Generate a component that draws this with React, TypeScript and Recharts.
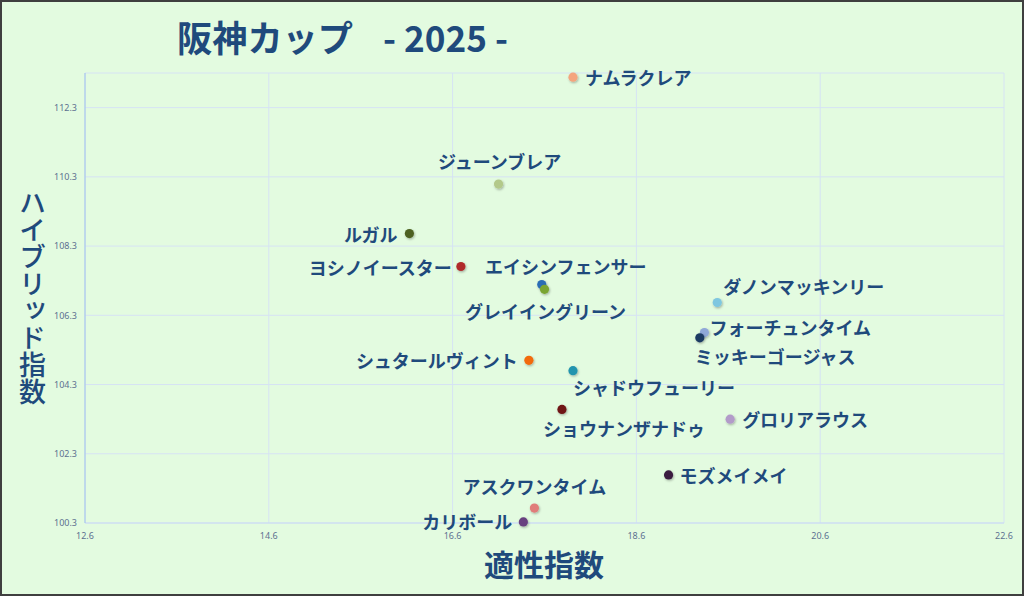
import React from "react";
import {
  ScatterChart,
  Scatter,
  XAxis,
  YAxis,
  CartesianGrid,
  Cell,
} from "recharts";

// horse names, 適性指数 (x), ハイブリッド指数 (y), dot colours
const horses = [
  "ナムラクレア",
  "ジューンブレア",
  "ルガル",
  "ヨシノイースター",
  "エイシンフェンサー",
  "グレイイングリーン",
  "ダノンマッキンリー",
  "フォーチュンタイム",
  "ミッキーゴージャス",
  "シュタールヴィント",
  "シャドウフューリー",
  "ショウナンザナドゥ",
  "グロリアラウス",
  "モズメイメイ",
  "アスクワンタイム",
  "カリボール",
];
const aptitude = [
  17.91, 17.1, 16.13, 16.69, 17.57, 17.6, 19.48, 19.34, 19.29, 17.43, 17.91,
  17.79, 19.62, 18.95, 17.49, 17.37,
];
const hybrid = [
  113.18, 110.09, 108.66, 107.71, 107.19, 107.05, 106.67, 105.8, 105.65, 105.0,
  104.7, 103.58, 103.3, 101.69, 100.73, 100.33,
];
const dotColors = [
  "#f4a57e",
  "#b3c98a",
  "#4e6121",
  "#b02a2a",
  "#2a6db5",
  "#7aa532",
  "#7fc7e0",
  "#8fa8d8",
  "#1c3a63",
  "#f26b0a",
  "#2394ae",
  "#6f1616",
  "#b29bc9",
  "#3a1f40",
  "#e07d7a",
  "#67407f",
];

const xTicks = [12.6, 14.6, 16.6, 18.6, 20.6, 22.6];
const yTicks = [100.3, 102.3, 104.3, 106.3, 108.3, 110.3, 112.3];

// where each name sits relative to its dot
const labelPlacement: { anchor: "start" | "middle" | "end"; dx: number; dy: number }[] = [
  { anchor: "start", dx: 12, dy: 0 },
  { anchor: "middle", dx: 1, dy: -23 },
  { anchor: "end", dx: -12, dy: 0 },
  { anchor: "end", dx: -9, dy: 0 },
  { anchor: "middle", dx: 24, dy: -19 },
  { anchor: "middle", dx: 1, dy: 22 },
  { anchor: "start", dx: 6, dy: -17 },
  { anchor: "start", dx: 5, dy: -6 },
  { anchor: "start", dx: -5, dy: 18 },
  { anchor: "end", dx: -11, dy: 0 },
  { anchor: "start", dx: 0, dy: 16 },
  { anchor: "start", dx: -19, dy: 19 },
  { anchor: "start", dx: 12, dy: 0 },
  { anchor: "start", dx: 11, dy: 0 },
  { anchor: "middle", dx: 0, dy: -22 },
  { anchor: "end", dx: -11, dy: -1 },
];

const data = horses.map((name, i) => ({
  name,
  x: aptitude[i],
  y: hybrid[i],
  idx: i,
}));

const NAVY = "#1f4a7c";
const JP = '"Noto Sans CJK JP", "Noto Sans", sans-serif';
const BG = "#e3fbe0";

function HorseDot(props: any) {
  const { cx, cy, payload } = props;
  const i = payload.idx;
  const p = labelPlacement[i];
  return (
    <g>
      <circle cx={cx} cy={cy} r={4.6} fill={dotColors[i]} filter="url(#dotShadow)" />
      <text
        x={cx + p.dx}
        y={cy + p.dy}
        textAnchor={p.anchor}
        dominantBaseline="central"
        fill={NAVY}
        fontSize={18}
        fontWeight={700}
        fontFamily={JP}
      >
        {payload.name}
      </text>
    </g>
  );
}

export default function App() {
  const tickStyle = { fontSize: 9, fill: "#5d7191", fontFamily: "Noto Sans, sans-serif" };
  return (
    <div
      style={{
        position: "fixed",
        left: 0,
        top: 0,
        width: 1024,
        height: 596,
        background: BG,
        fontFamily: JP,
      }}
    >
      <ScatterChart
        width={1024}
        height={596}
        margin={{ top: 73, right: 20, bottom: 43, left: 20 }}
      >
        <defs>
          <filter id="dotShadow" x="-60%" y="-60%" width="220%" height="220%">
            <feDropShadow dx="0.8" dy="1.2" stdDeviation="1" floodColor="#000" floodOpacity="0.3" />
          </filter>
        </defs>
        <CartesianGrid stroke="#d6e3f4" strokeWidth={1} />
        <XAxis
          type="number"
          dataKey="x"
          domain={[12.6, 22.6]}
          ticks={xTicks}
          tickFormatter={(v: number) => v.toFixed(1)}
          tick={tickStyle}
          tickLine={false}
          tickSize={0}
          tickMargin={10}
          height={30}
          stroke="#c9dbf2"
          interval={0}
        />
        <YAxis
          type="number"
          dataKey="y"
          domain={[100.3, 113.3]}
          ticks={yTicks}
          tickFormatter={(v: number) => v.toFixed(1)}
          tick={tickStyle}
          tickLine={false}
          tickSize={0}
          tickMargin={8}
          width={65}
          stroke="#9fc2ea"
          interval={0}
        />
        <Scatter data={data} shape={<HorseDot />} isAnimationActive={false}>
          {data.map((d) => (
            <Cell key={d.name} fill={dotColors[d.idx]} />
          ))}
        </Scatter>
      </ScatterChart>

      <svg
        width={1024}
        height={80}
        style={{ position: "absolute", left: 0, top: 0, pointerEvents: "none" }}
      >
        <text
          x={177}
          y={36}
          dominantBaseline="central"
          fill={NAVY}
          fontSize={36}
          fontWeight={700}
          fontFamily={JP}
          textLength={176}
          lengthAdjust="spacingAndGlyphs"
        >
          阪神カップ
        </text>
        <text
          x={383}
          y={36}
          dominantBaseline="central"
          fill={NAVY}
          fontSize={36}
          fontWeight={700}
          fontFamily={JP}
          textLength={125}
          lengthAdjust="spacingAndGlyphs"
        >
          - 2025 -
        </text>
      </svg>

      <div
        style={{
          position: "absolute",
          left: 544,
          top: 563,
          transform: "translate(-50%, -50%)",
          fontSize: 30,
          fontWeight: 700,
          color: NAVY,
          whiteSpace: "nowrap",
          lineHeight: 1,
        }}
      >
        適性指数
      </div>

      <div
        style={{
          position: "absolute",
          left: 19,
          top: 189,
          writingMode: "vertical-rl",
          textOrientation: "upright",
          fontSize: 27,
          fontWeight: 500,
          color: NAVY,
          lineHeight: 1,
          whiteSpace: "nowrap",
        }}
      >
        ハイブリッド指数
      </div>

      <div
        style={{
          position: "absolute",
          left: 0,
          top: 0,
          width: 1024,
          height: 596,
          boxSizing: "border-box",
          border: "2px solid #3f3f3f",
          pointerEvents: "none",
        }}
      />
    </div>
  );
}
